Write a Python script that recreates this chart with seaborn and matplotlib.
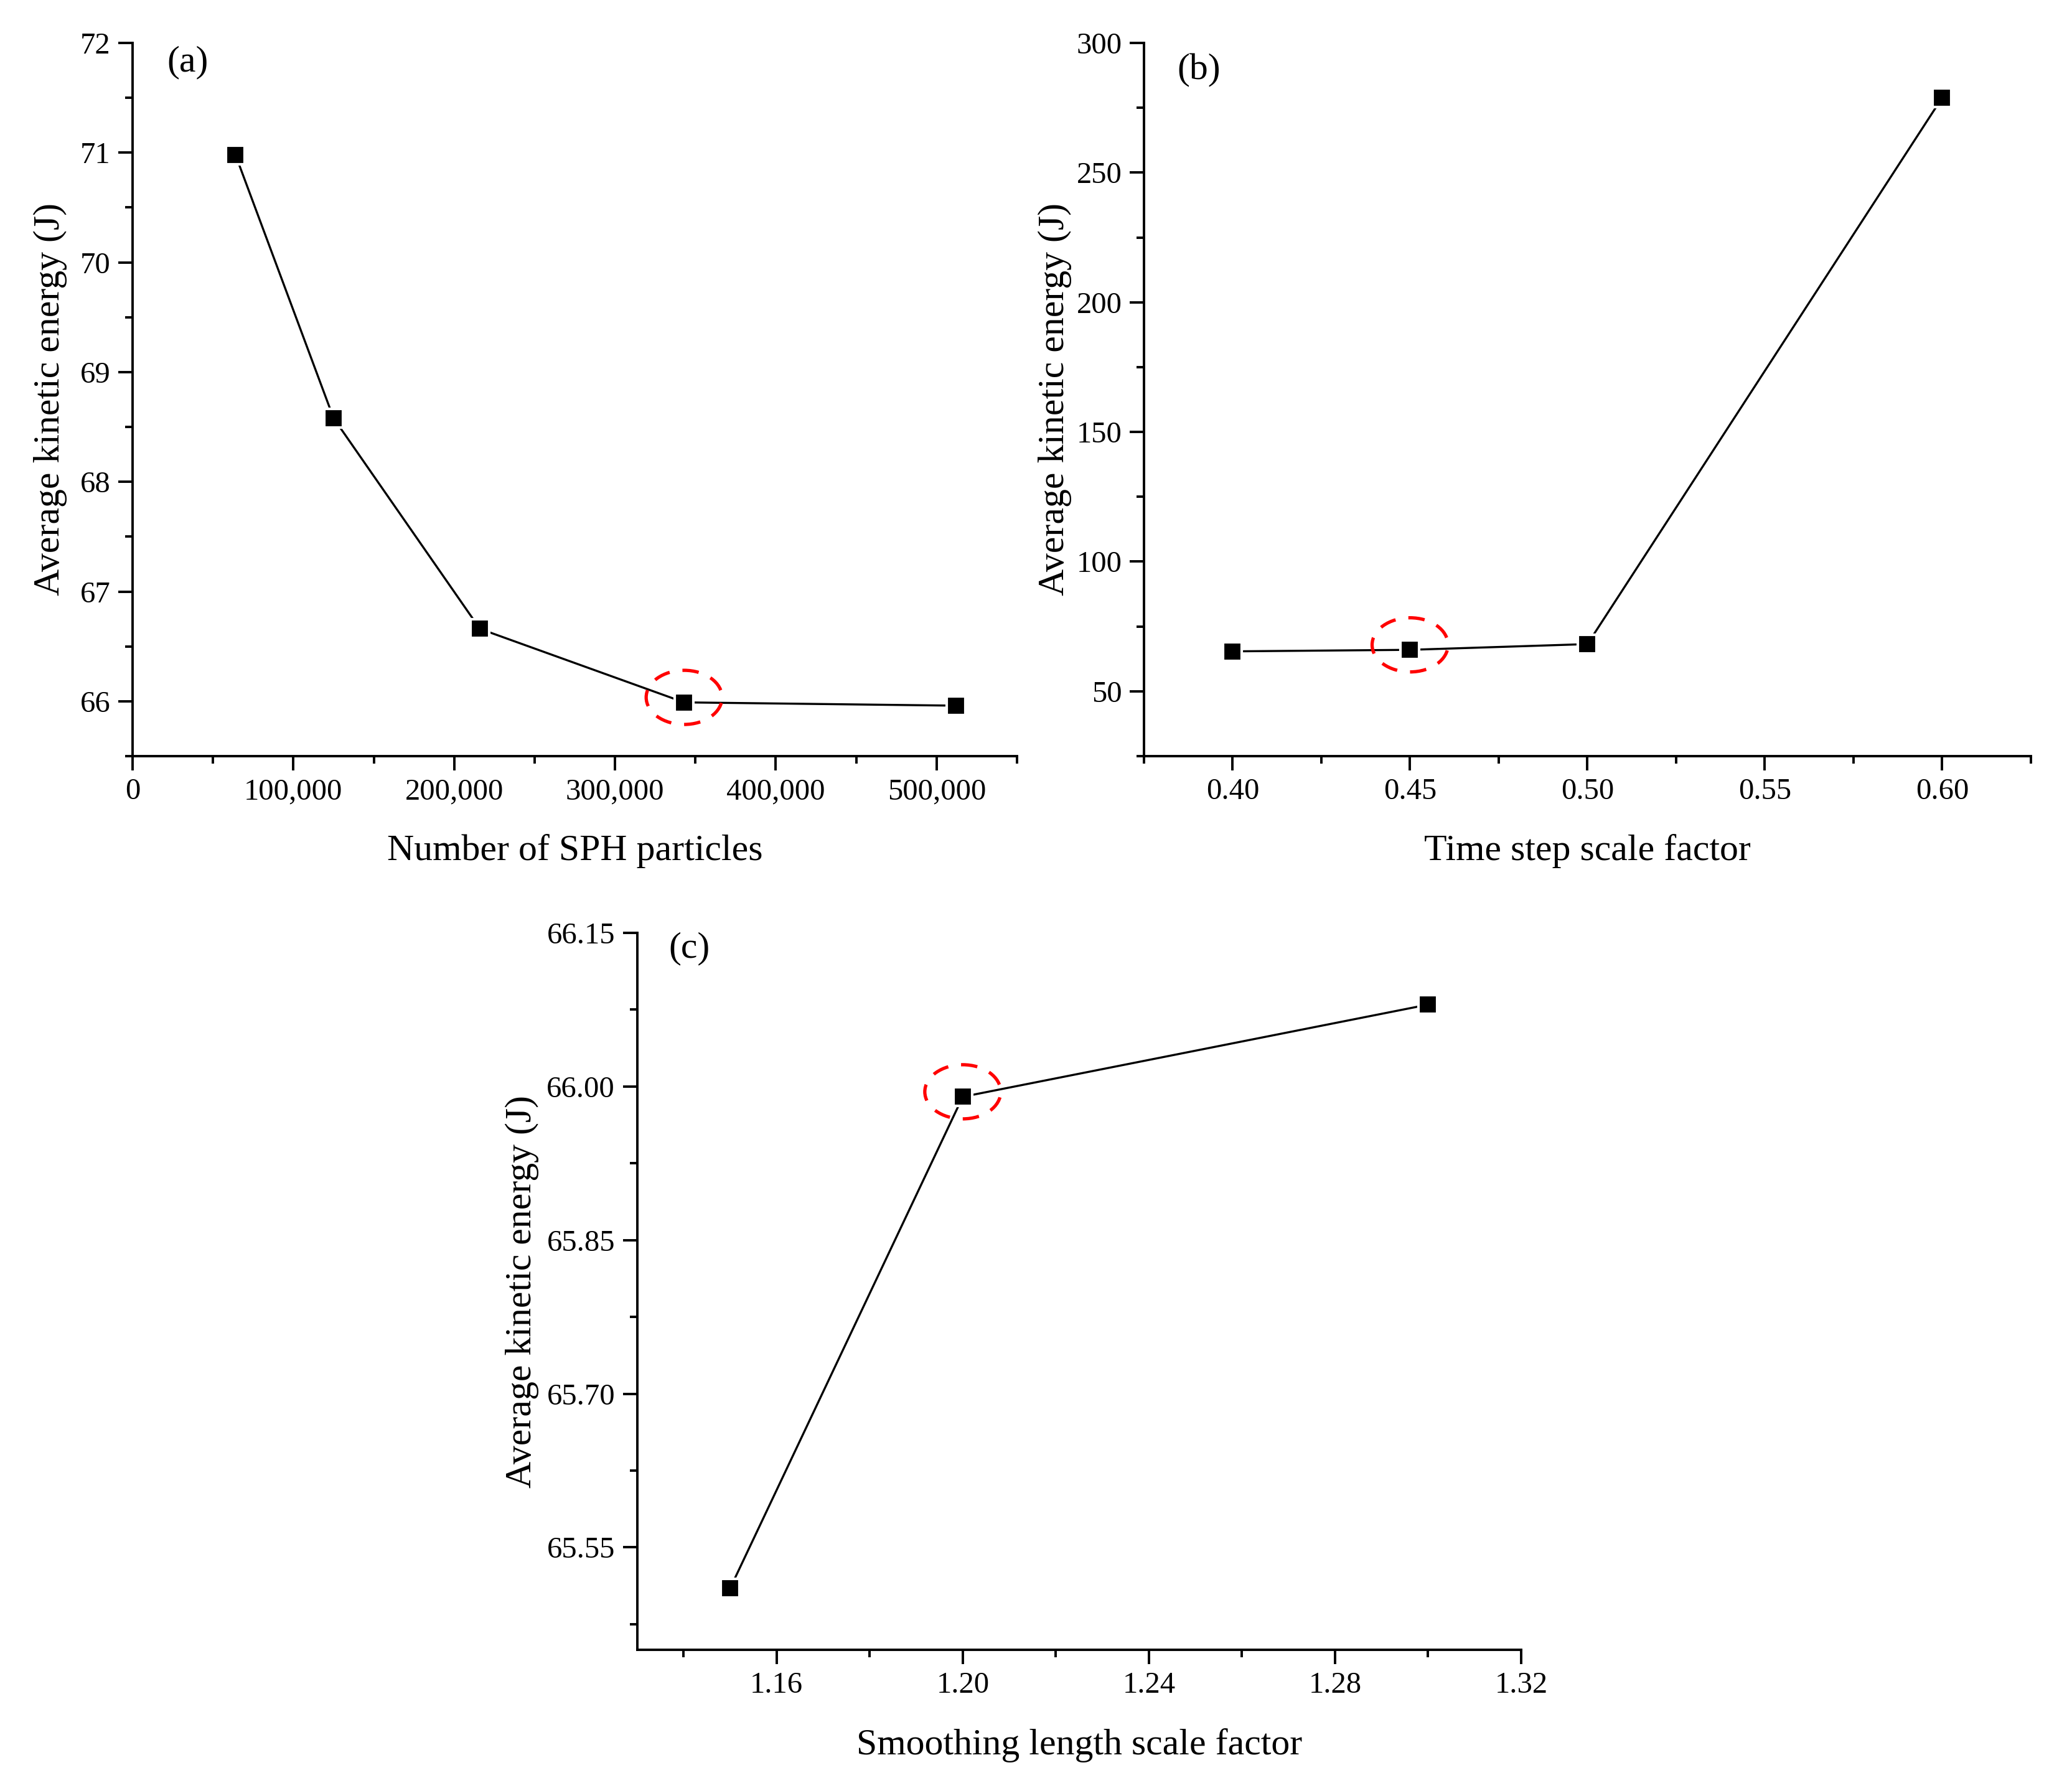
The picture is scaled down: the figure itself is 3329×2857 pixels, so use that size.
import numpy as np
import pandas as pd
import seaborn as sns
import matplotlib
matplotlib.use("Agg")
import matplotlib.pyplot as plt
from matplotlib.patches import Ellipse
from matplotlib.ticker import AutoMinorLocator, MultipleLocator, FuncFormatter, FormatStrFormatter
from matplotlib.transforms import ScaledTranslation

# --- data ---
n_particles = [64000, 125000, 216000, 343000, 512000]
ke_particles = [70.98, 68.58, 66.66, 65.99, 65.96]

dt_factor = [0.40, 0.45, 0.50, 0.60]
ke_dt = [65.4, 65.99, 68.2, 278.9]

h_factor = [1.15, 1.20, 1.30]
ke_h = [65.51, 65.99, 66.08]

# chosen settings, circled in red
picked_particles = 343000
picked_dt = 0.45
picked_h = 1.20

ylab = "Average kinetic energy (J)"

sns.set_theme(style="ticks", rc={
    "text.color": "black", "axes.labelcolor": "black",
    "xtick.color": "black", "ytick.color": "black",
    "axes.edgecolor": "black", "lines.scale_dashes": False,
})
plt.rcParams["font.family"] = ["Liberation Serif", "DejaVu Serif"]

fig = plt.figure(figsize=(33.3, 28.57), dpi=100)
ax_a = fig.add_axes([0.06396, 0.57473, 0.42673, 0.40112])
ax_b = fig.add_axes([0.55195, 0.57473, 0.42793, 0.40112])
ax_c = fig.add_axes([0.30736, 0.07210, 0.42658, 0.40320])

line_kw = dict(color="black", lw=2.4, marker="s", markersize=21,
               markeredgecolor="white", markeredgewidth=3, legend=False)


def style_axis(ax, xlabel, panel, tag_xy, ylab_x):
    sns.despine(ax=ax)
    for s in ("left", "bottom"):
        ax.spines[s].set_linewidth(2.8)
    ax.tick_params(which="major", length=16.5, width=2.8, labelsize=35, pad=9)
    ax.tick_params(which="minor", length=8.6, width=2.8)
    ax.xaxis.set_minor_locator(AutoMinorLocator(2))
    ax.yaxis.set_minor_locator(AutoMinorLocator(2))
    ax.set_xlabel(xlabel, fontsize=43, va="top")
    ax.xaxis.set_label_coords(0.5, -0.109)
    ax.set_ylabel(ylab, fontsize=43, va="center")
    ax.yaxis.set_label_coords(ylab_x, 0.5)
    ax.text(tag_xy[0], tag_xy[1], panel, transform=ax.transAxes,
            fontsize=43, ha="left", va="center")


def mark(ax, x, y):
    trans = fig.dpi_scale_trans + ScaledTranslation(x, y, ax.transData)
    ax.add_patch(Ellipse((0, 0.08), 1.22, 0.87, transform=trans, fill=False,
                         ec="red", lw=3.8, ls=(0, (19, 15)), zorder=5))


# (a) particle count
sns.lineplot(x=n_particles, y=ke_particles, ax=ax_a, **line_kw)
ax_a.set_xlim(0, 550000)
ax_a.set_ylim(65.5, 72)
ax_a.xaxis.set_major_locator(MultipleLocator(100000))
ax_a.xaxis.set_major_formatter(FuncFormatter(lambda v, p: f"{v:,.0f}"))
ax_a.yaxis.set_major_locator(MultipleLocator(1))
style_axis(ax_a, "Number of SPH particles", "(a)", (0.0387, 0.973), -0.093)
mark(ax_a, picked_particles, ke_particles[n_particles.index(picked_particles)])

# (b) time step scale factor
sns.lineplot(x=dt_factor, y=ke_dt, ax=ax_b, **line_kw)
ax_b.set_xlim(0.375, 0.625)
ax_b.set_ylim(25, 300)
ax_b.xaxis.set_major_locator(MultipleLocator(0.05))
ax_b.xaxis.set_major_formatter(FormatStrFormatter("%.2f"))
ax_b.yaxis.set_major_locator(MultipleLocator(50))
style_axis(ax_b, "Time step scale factor", "(b)", (0.0376, 0.9616), -0.1003)
mark(ax_b, picked_dt, ke_dt[dt_factor.index(picked_dt)])

# (c) smoothing length scale factor
sns.lineplot(x=h_factor, y=ke_h, ax=ax_c, **line_kw)
ax_c.set_xlim(1.13, 1.32)
ax_c.set_ylim(65.45, 66.15)
ax_c.xaxis.set_major_locator(MultipleLocator(0.04))
ax_c.xaxis.set_major_formatter(FormatStrFormatter("%.2f"))
ax_c.yaxis.set_major_locator(MultipleLocator(0.15))
ax_c.yaxis.set_major_formatter(FormatStrFormatter("%.2f"))
style_axis(ax_c, "Smoothing length scale factor", "(c)", (0.0355, 0.978), -0.1299)
mark(ax_c, picked_h, ke_h[h_factor.index(picked_h)])

fig.savefig("out.png", dpi=100)
